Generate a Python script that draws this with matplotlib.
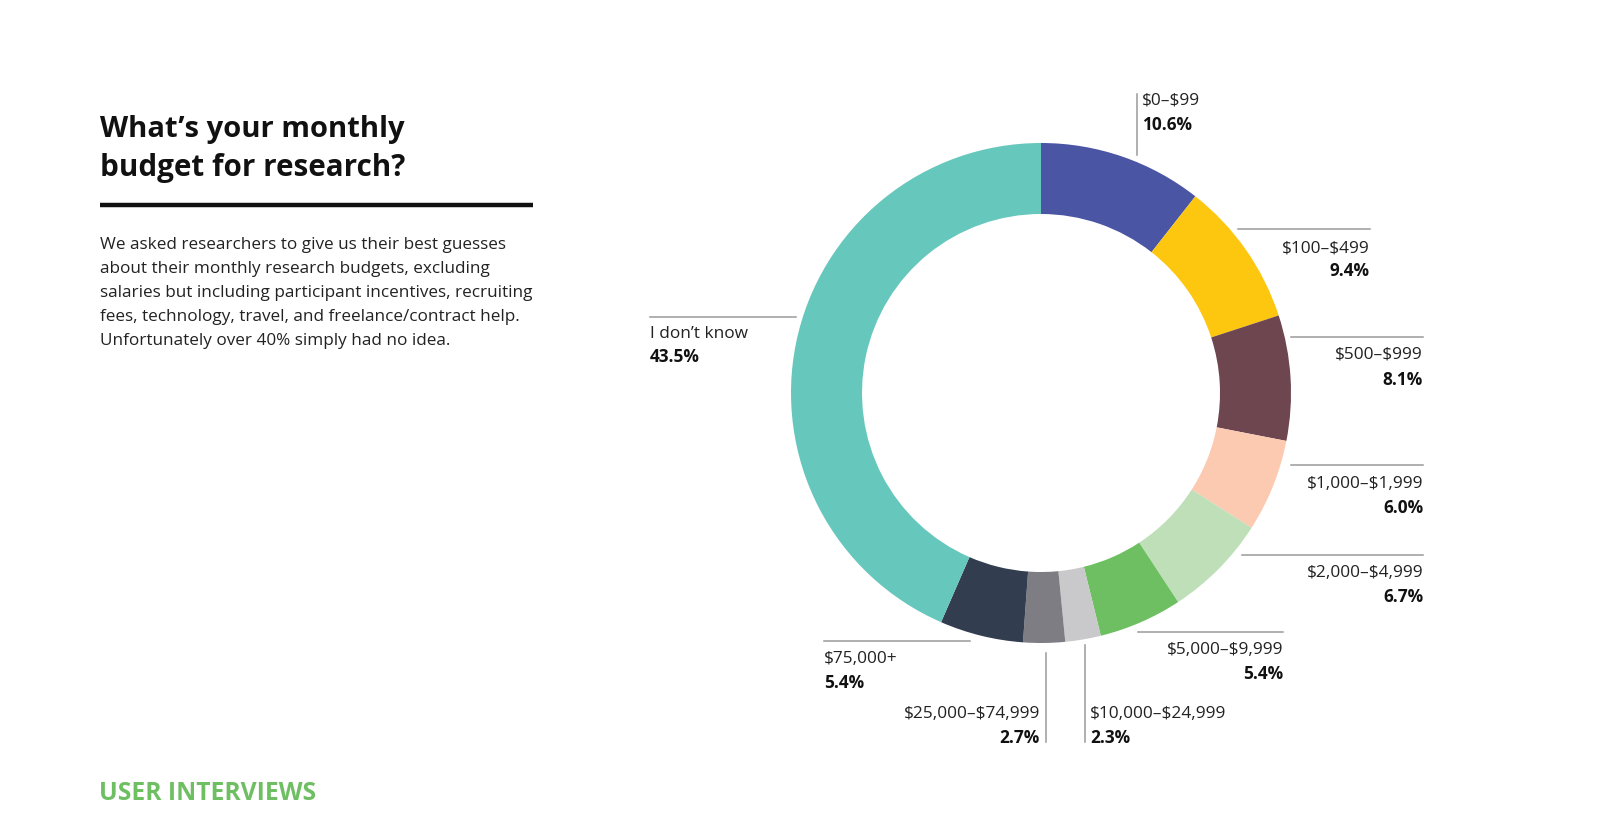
import matplotlib.pyplot as plt

plt.rcParams["text.parse_math"] = False

# survey data, clockwise from the top
categories = ["$0–$99", "$100–$499", "$500–$999", "$1,000–$1,999",
              "$2,000–$4,999", "$5,000–$9,999", "$10,000–$24,999",
              "$25,000–$74,999", "$75,000+", "I don’t know"]
shares = [10.6, 9.4, 8.1, 6.0, 6.7, 5.4, 2.3, 2.7, 5.4, 43.5]
colors = ["#4A55A3", "#FDC70F", "#6D4650", "#FBCAB0", "#BFDFB9",
          "#6DBF61", "#C9C9CB", "#7E7D83", "#323E50", "#66C7BC"]

FONT = ["Open Sans", "DejaVu Sans"]
GREY = "#9a9a9a"

fig = plt.figure(figsize=(16, 8.4), dpi=100)
ax = fig.add_axes([0, 0, 1, 1])

# donut (y axis flipped, so counterclock in data = clockwise on screen)
ax.pie(shares, colors=colors, center=(1041, 393), radius=250,
       startangle=-90, counterclock=True, frame=True,
       wedgeprops=dict(width=71, linewidth=0))
ax.set_xlim(0, 1600)
ax.set_ylim(840, 0)   # pixel coords, y downwards
ax.axis("off")

# leader lines: (x0, y0, x1, y1), text x, label y, pct y, alignment
layout = [
    ((1137, 94, 1137, 155), 1142, 101, 125, "left"),
    ((1238, 229, 1370, 229), 1370, 248, 271, "right"),
    ((1291, 337, 1423, 337), 1423, 355, 380, "right"),
    ((1291, 465, 1423, 465), 1423, 484, 508, "right"),
    ((1242, 555, 1423, 555), 1423, 573, 597, "right"),
    ((1138, 632, 1283, 632), 1283, 650, 674, "right"),
    ((1085, 645, 1085, 742), 1090, 714, 738, "left"),
    ((1046, 653, 1046, 742), 1040, 714, 738, "right"),
    ((824, 641, 970, 641), 824, 659, 683, "left"),
    ((650, 317, 796, 317), 650, 334, 357, "left"),
]
for cat, val, (seg, tx, ly, py, ha) in zip(categories, shares, layout):
    ax.plot([seg[0], seg[2]], [seg[1], seg[3]], color=GREY, lw=1.1)
    ax.text(tx, ly, cat, ha=ha, va="center", fontsize=12.4,
            family=FONT, color="#222222")
    ax.text(tx, py, f"{val:.1f}%", ha=ha, va="center", fontsize=12.4,
            family=FONT, fontweight="bold", color="#111111")

# left column
ax.text(100, 129, "What’s your monthly", fontsize=21, fontweight="bold",
        family=FONT, va="center", color="#111111")
ax.text(100, 168, "budget for research?", fontsize=21.3, fontweight="bold",
        family=FONT, va="center", color="#111111")
ax.plot([100, 533], [205, 205], color="#111111", lw=3.2,
        solid_capstyle="butt")

body = ["We asked researchers to give us their best guesses",
        "about their monthly research budgets, excluding",
        "salaries but including participant incentives, recruiting",
        "fees, technology, travel, and freelance/contract help.",
        "Unfortunately over 40% simply had no idea."]
for i, line in enumerate(body):
    ax.text(100, 245 + i * 24, line, fontsize=12.3, family=FONT,
            va="center", color="#222222")

ax.text(99, 794, "USER INTERVIEWS", fontsize=17.7, fontweight="bold",
        family=FONT, va="center", color="#6DBF61")

fig.savefig("out.png", dpi=100, facecolor="white")
